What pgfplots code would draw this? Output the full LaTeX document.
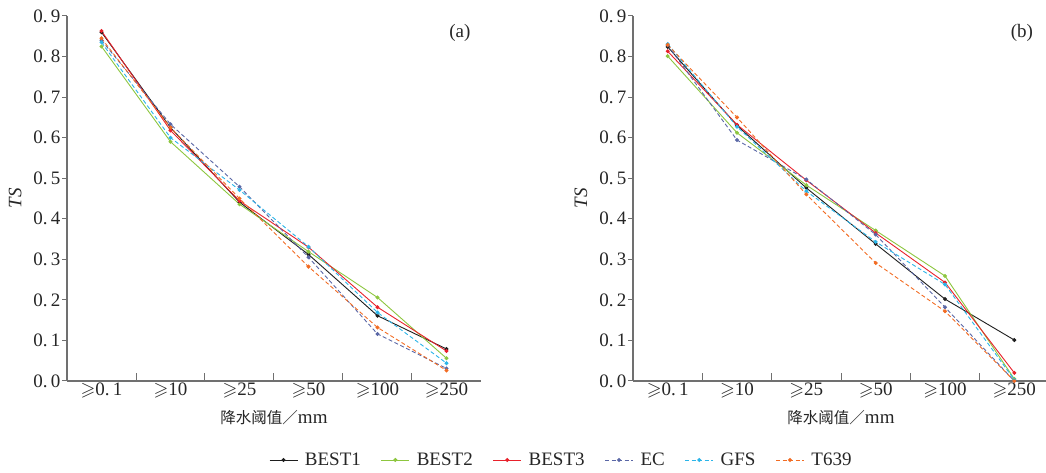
\documentclass[border=0pt]{standalone}
\usepackage{amsmath,amssymb}
\usepackage{fontspec}
\setmainfont{Liberation Serif}
\newfontfamily\cjk{Noto Sans CJK SC}
\usepackage{pgfplots}
\usepackage{pgfplotstable}
\pgfplotsset{compat=1.18}
\definecolor{bestone}{HTML}{1E1E1E}
\definecolor{besttwo}{HTML}{8DC63F}
\definecolor{bestthree}{HTML}{E8212B}
\definecolor{ecc}{HTML}{5A67A6}
\definecolor{gfsc}{HTML}{2BB5E9}
\definecolor{tsixc}{HTML}{F26C23}
\definecolor{axisgray}{HTML}{707070}

% TS scores, panel (a)
\pgfplotstableread{
x BEST1 BEST2 BEST3 EC GFS T639
0 0.860 0.825 0.863 0.840 0.835 0.845
1 0.625 0.590 0.618 0.633 0.600 0.625
2 0.441 0.436 0.444 0.479 0.471 0.450
3 0.312 0.319 0.330 0.305 0.331 0.282
4 0.161 0.206 0.182 0.116 0.169 0.132
5 0.079 0.056 0.074 0.031 0.044 0.026
}\tsa
% TS scores, panel (b)
\pgfplotstableread{
x BEST1 BEST2 BEST3 EC GFS T639
0 0.824 0.801 0.813 0.828 0.831 0.829
1 0.630 0.612 0.632 0.594 0.627 0.650
2 0.476 0.483 0.495 0.497 0.468 0.460
3 0.338 0.371 0.365 0.361 0.343 0.291
4 0.202 0.259 0.243 0.182 0.238 0.172
5 0.101 0.005 0.020 0.000 0.003 0.000
}\tsb

\newcommand\lblfont{\fontsize{19}{22}\selectfont}
\pgfplotsset{
  tsaxis/.style={
    scale only axis, width=414pt, height=365pt, anchor=south west,
    xmin=-0.5, xmax=5.5, ymin=0, ymax=0.9,
    axis lines=left, axis line style={-, axisgray, line width=1.3pt},
    xtick={0,...,5},
    xticklabels={$\geqslant$0.\,1,$\geqslant$10,$\geqslant$25,$\geqslant$50,$\geqslant$100,$\geqslant$250},
    minor xtick={0.5,1.5,2.5,3.5,4.5},
    major x tick style={draw=none},
    minor tick length=8pt, major tick length=5pt,
    xtick align=inside, ytick align=outside,
    tick style={axisgray, line width=1pt},
    ytick={0,0.1,...,0.9},
    yticklabels={0.\,0,0.\,1,0.\,2,0.\,3,0.\,4,0.\,5,0.\,6,0.\,7,0.\,8,0.\,9},
    ticklabel style={font=\lblfont, text=black!85},
    yticklabel style={inner sep=1.5pt},
    xticklabel style={inner sep=2pt},
    xlabel={{\cjk\fontsize{15.5}{18}\selectfont 降水阈值／}mm},
    ylabel={\textit{TS}},
    label style={font=\lblfont, text=black!85},
    xlabel style={at={(axis description cs:0.5,-0.101)}, anchor=center},
    ylabel style={at={(axis description cs:-0.125,0.5)}, anchor=center},
    clip=false,
    every axis plot/.append style={line width=0.9pt, mark=*, mark size=1.5pt},
  },
  sline/.style={#1, solid, mark options={solid, fill=#1}},
  dline/.style={#1, dash pattern=on 4pt off 2.5pt, mark options={solid, fill=#1}},
}

\begin{document}
\begin{tikzpicture}
\useasboundingbox (0pt,0pt) rectangle (1046pt,473pt);

\begin{axis}[tsaxis, at={(67pt,92pt)},
  legend columns=6,
  legend style={draw=none, at={(axis description cs:1.194,-0.2164)}, anchor=center,
    font=\lblfont, text=black!85,
    /tikz/every odd column/.append style={column sep=5pt},
    /tikz/every even column/.append style={column sep=18pt}},
  legend image code/.code={\draw[mark repeat=2, mark phase=2] plot coordinates {(0pt,0pt) (14pt,0pt) (28pt,0pt)};},
  legend cell align=left]
  \addplot[sline=bestone] table[x=x, y=BEST1] {\tsa};
  \addlegendentry{BEST1}
  \addplot[sline=besttwo] table[x=x, y=BEST2] {\tsa};
  \addlegendentry{BEST2}
  \addplot[sline=bestthree] table[x=x, y=BEST3] {\tsa};
  \addlegendentry{BEST3}
  \addplot[dline=ecc] table[x=x, y=EC] {\tsa};
  \addlegendentry{EC}
  \addplot[dline=gfsc] table[x=x, y=GFS] {\tsa};
  \addlegendentry{GFS}
  \addplot[dline=tsixc] table[x=x, y=T639] {\tsa};
  \addlegendentry{T639}
  \node[font=\lblfont, text=black!85] at (axis description cs:0.949,0.953) {(a)};
\end{axis}

\begin{axis}[tsaxis, at={(633pt,92pt)}, width=416pt]
  \addplot[sline=bestone] table[x=x, y=BEST1] {\tsb};
  \addplot[sline=besttwo] table[x=x, y=BEST2] {\tsb};
  \addplot[sline=bestthree] table[x=x, y=BEST3] {\tsb};
  \addplot[dline=ecc] table[x=x, y=EC] {\tsb};
  \addplot[dline=gfsc] table[x=x, y=GFS] {\tsb};
  \addplot[dline=tsixc] table[x=x, y=T639] {\tsb};
  \node[font=\lblfont, text=black!85] at (axis description cs:0.935,0.953) {(b)};
\end{axis}
\end{tikzpicture}
\end{document}
